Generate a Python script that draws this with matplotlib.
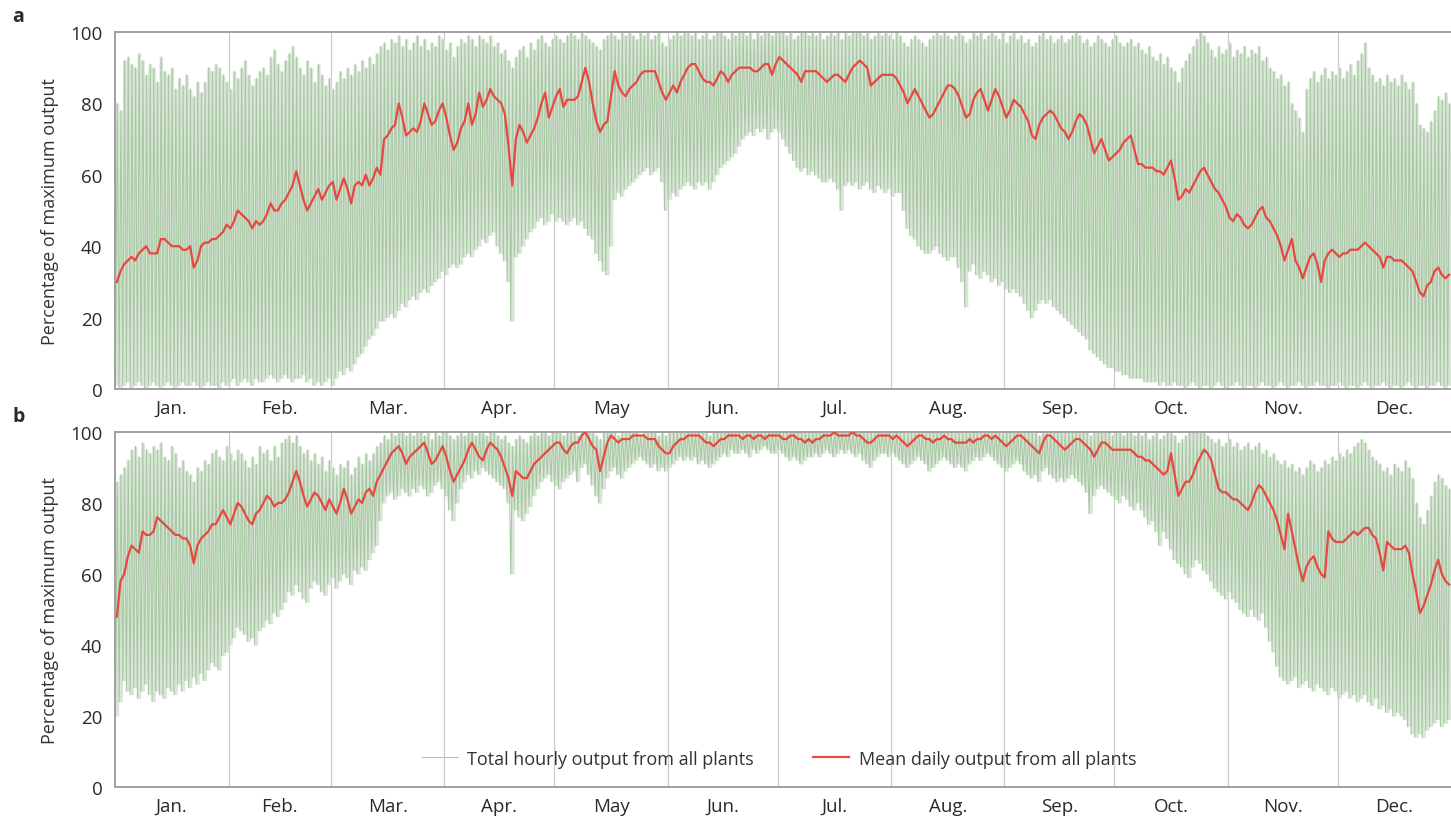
import numpy as np
import matplotlib
matplotlib.use("Agg")
import matplotlib.pyplot as plt

plt.rcParams['font.family'] = ['Open Sans', 'DejaVu Sans']

# ============== 数据 (按天读取, 0 = 1月1日) ==============
MONTHS = ['Jan.', 'Feb.', 'Mar.', 'Apr.', 'May', 'Jun.', 'Jul.', 'Aug.', 'Sep.', 'Oct.', 'Nov.', 'Dec.']
MONTH_DAYS = [31, 28, 31, 30, 31, 30, 31, 31, 30, 31, 30, 31]

# 面板 a: 日均值 / 日最大 / 日最小 (% of maximum output)
A_MEAN = [
    30, 33, 35, 36, 37, 36, 38, 39, 40, 38,
    38, 38, 42, 42, 41, 40, 40, 40, 39, 39,
    40, 34, 36, 40, 41, 41, 42, 42, 43, 44,
    46, 45, 47, 50, 49, 48, 47, 45, 47, 46,
    47, 49, 52, 50, 50, 52, 53, 55, 57, 61,
    57, 53, 50, 52, 54, 56, 53, 55, 57, 58,
    53, 56, 59, 56, 52, 57, 58, 57, 60, 57,
    59, 62, 60, 70, 71, 73, 74, 80, 76, 71,
    72, 73, 72, 75, 80, 77, 74, 75, 78, 80,
    76, 71, 67, 69, 73, 75, 80, 74, 77, 83,
    79, 81, 84, 82, 81, 80, 77, 68, 57, 70,
    74, 72, 69, 71, 73, 76, 80, 83, 76, 79,
    82, 84, 79, 81, 81, 81, 82, 86, 90, 86,
    80, 75, 72, 74, 75, 82, 89, 85, 83, 82,
    84, 85, 86, 88, 89, 89, 89, 89, 86, 83,
    81, 83, 85, 83, 86, 88, 90, 91, 91, 89,
    87, 86, 86, 85, 87, 89, 88, 86, 88, 89,
    90, 90, 90, 90, 89, 89, 90, 91, 91, 88,
    91, 93, 92, 91, 90, 89, 88, 86, 89, 89,
    89, 89, 88, 87, 86, 87, 88, 88, 87, 86,
    88, 90, 91, 92, 91, 90, 85, 86, 87, 88,
    88, 88, 88, 87, 85, 83, 80, 82, 84, 82,
    80, 78, 76, 77, 79, 81, 83, 85, 85, 84,
    82, 79, 76, 77, 81, 83, 84, 81, 78, 81,
    84, 82, 79, 76, 78, 81, 80, 79, 77, 75,
    71, 70, 74, 76, 77, 78, 77, 75, 73, 72,
    70, 72, 75, 77, 76, 74, 70, 66, 68, 70,
    67, 64, 65, 66, 67, 69, 70, 71, 67, 63,
    63, 62, 62, 62, 61, 61, 60, 62, 64, 59,
    53, 54, 56, 55, 57, 59, 61, 62, 60, 58,
    56, 55, 53, 51, 48, 47, 49, 48, 46, 45,
    46, 48, 50, 51, 48, 47, 45, 43, 40, 36,
    39, 42, 36, 34, 31, 34, 37, 38, 35, 30,
    36, 38, 39, 38, 37, 38, 38, 39, 39, 39,
    40, 41, 40, 39, 38, 37, 34, 37, 37, 36,
    36, 36, 35, 34, 33, 30, 27, 26, 29, 30,
    33, 34, 32, 31, 32,
]
A_MAX = [
    80, 78, 92, 93, 91, 90, 94, 92, 88, 91,
    90, 86, 93, 89, 88, 90, 84, 87, 85, 88,
    84, 82, 86, 83, 86, 90, 89, 91, 90, 88,
    86, 84, 89, 87, 90, 92, 88, 85, 87, 89,
    90, 88, 93, 95, 91, 89, 92, 94, 96, 93,
    90, 88, 92, 90, 86, 91, 88, 85, 87, 84,
    86, 89, 87, 90, 88, 91, 89, 92, 90, 93,
    91, 94, 96, 97, 95, 98, 97, 99, 96, 98,
    95, 97, 99, 96, 98, 95, 97, 96, 99, 98,
    95, 97, 93, 96, 98, 97, 99, 98, 96, 99,
    98, 97, 99, 96, 97, 94, 95, 92, 90, 93,
    95, 96, 93, 97, 95, 98, 99, 97, 96, 98,
    99, 98, 97, 99, 100, 99, 98, 100, 99, 98,
    97, 96, 95, 98, 99, 100, 99, 98, 100, 99,
    100, 99, 98, 100, 99, 100, 98, 99, 100, 97,
    96, 98, 99, 100, 99, 100, 100, 99, 100, 98,
    99, 100, 98, 99, 100, 100, 99, 98, 100, 99,
    100, 100, 99, 100, 98, 100, 99, 100, 100, 99,
    100, 100, 100, 99, 100, 98, 99, 100, 100, 99,
    100, 99, 100, 98, 99, 100, 99, 100, 98, 100,
    99, 100, 100, 100, 99, 100, 98, 99, 100, 99,
    100, 99, 98, 100, 99, 97, 96, 98, 99, 98,
    97, 96, 98, 99, 100, 99, 100, 99, 98, 99,
    100, 99, 97, 98, 100, 99, 100, 98, 99, 100,
    99, 98, 100, 97, 99, 100, 98, 99, 97, 98,
    96, 97, 99, 100, 98, 99, 97, 98, 99, 97,
    98, 99, 100, 99, 97, 98, 96, 97, 99, 98,
    97, 96, 98, 99, 97, 96, 97, 98, 96, 97,
    95, 94, 96, 93, 92, 94, 91, 93, 90, 89,
    86, 90, 92, 94, 96, 98, 100, 99, 97, 95,
    93, 96, 94, 95, 97, 93, 95, 94, 96, 93,
    95, 94, 96, 92, 93, 90, 89, 87, 88, 85,
    86, 80, 78, 76, 72, 84, 87, 89, 86, 88,
    90, 87, 89, 88, 90, 87, 89, 91, 88, 92,
    94, 97, 90, 88, 86, 87, 85, 88, 86, 87,
    85, 88, 86, 84, 86, 80, 74, 73, 72, 75,
    78, 82, 81, 83, 80,
]
A_MIN = [
    1, 0, 1, 2, 0, 1, 2, 1, 0, 1,
    2, 1, 0, 1, 2, 1, 0, 1, 2, 1,
    1, 2, 1, 0, 1, 2, 1, 1, 0, 2,
    1, 2, 3, 1, 2, 3, 2, 1, 3, 2,
    2, 3, 4, 3, 2, 3, 4, 3, 2, 3,
    3, 4, 2, 3, 1, 2, 1, 2, 3, 1,
    3, 5, 4, 6, 5, 7, 9, 10, 12, 14,
    15, 17, 19, 19, 20, 21, 20, 22, 24, 23,
    25, 26, 25, 27, 28, 27, 29, 30, 31, 33,
    32, 34, 35, 34, 35, 37, 38, 37, 39, 40,
    42, 41, 43, 44, 40, 38, 36, 30, 19, 37,
    38, 40, 42, 44, 45, 47, 48, 46, 47, 49,
    47, 48, 47, 46, 47, 48, 46, 47, 45, 43,
    42, 38, 36, 33, 32, 40, 53, 55, 54, 56,
    57, 58, 59, 60, 61, 62, 60, 61, 62, 58,
    50, 53, 55, 54, 56, 57, 58, 57, 56, 58,
    57, 58, 56, 58, 60, 62, 63, 64, 65, 66,
    68, 70, 71, 72, 71, 73, 72, 73, 70, 72,
    73, 72, 70, 68, 66, 64, 62, 61, 62, 60,
    61, 60, 59, 58, 58, 59, 58, 56, 50, 57,
    58, 57, 58, 56, 57, 58, 56, 55, 57, 56,
    55, 56, 54, 55, 55, 50, 45, 43, 42, 40,
    39, 38, 38, 39, 40, 38, 37, 36, 37, 37,
    34, 30, 23, 33, 35, 32, 31, 33, 32, 30,
    31, 29, 30, 28, 27, 28, 27, 26, 24, 22,
    20, 22, 24, 25, 24, 25, 23, 22, 21, 20,
    19, 18, 17, 16, 15, 14, 11, 10, 9, 8,
    7, 6, 6, 5, 5, 4, 4, 3, 3, 3,
    3, 2, 2, 2, 2, 1, 2, 1, 1, 2,
    1, 1, 0, 1, 2, 1, 0, 1, 1, 0,
    1, 2, 1, 0, 1, 1, 2, 1, 0, 1,
    1, 0, 1, 2, 1, 1, 0, 1, 2, 1,
    0, 1, 1, 2, 1, 0, 1, 1, 2, 1,
    1, 0, 1, 1, 2, 1, 0, 1, 1, 0,
    1, 2, 1, 0, 1, 1, 2, 1, 0, 1,
    1, 0, 1, 2, 1, 0, 1, 1, 0, 1,
    1, 2, 1, 0, 1,
]

# 面板 b
B_MEAN = [
    48, 58, 60, 65, 68, 67, 66, 72, 71, 71,
    72, 76, 75, 74, 73, 72, 71, 71, 70, 70,
    68, 63, 68, 70, 71, 72, 74, 74, 76, 78,
    76, 74, 77, 80, 79, 77, 75, 74, 77, 78,
    80, 82, 81, 79, 80, 80, 81, 83, 86, 89,
    86, 82, 79, 81, 83, 82, 80, 78, 81, 79,
    77, 80, 84, 81, 77, 79, 81, 80, 83, 84,
    82, 86, 88, 90, 92, 94, 95, 96, 94, 91,
    93, 94, 95, 96, 97, 94, 91, 92, 94, 96,
    93, 89, 86, 88, 90, 92, 95, 97, 95, 93,
    92, 95, 97, 96, 95, 93, 90, 87, 82, 89,
    88, 87, 87, 89, 91, 92, 93, 94, 95, 96,
    97, 97, 95, 94, 96, 97, 97, 99, 100, 98,
    96, 95, 89, 93, 97, 99, 98, 97, 98, 98,
    98, 99, 99, 99, 99, 98, 98, 98, 96, 95,
    94, 94, 96, 97, 98, 98, 99, 99, 99, 99,
    98, 97, 97, 96, 97, 98, 98, 99, 99, 99,
    99, 98, 99, 99, 98, 99, 99, 98, 99, 99,
    99, 99, 98, 98, 99, 99, 98, 98, 97, 98,
    97, 98, 98, 99, 99, 99, 100, 99, 99, 99,
    99, 100, 99, 99, 98, 97, 97, 98, 99, 99,
    99, 99, 98, 99, 98, 97, 96, 97, 98, 99,
    99, 98, 98, 97, 98, 98, 99, 98, 98, 97,
    97, 97, 97, 98, 97, 98, 98, 99, 99, 98,
    99, 98, 97, 96, 97, 98, 99, 99, 98, 97,
    96, 95, 94, 97, 99, 99, 98, 97, 96, 95,
    96, 97, 98, 98, 97, 96, 95, 93, 95, 97,
    97, 96, 95, 95, 95, 95, 95, 95, 94, 93,
    93, 92, 92, 91, 90, 89, 88, 89, 94, 88,
    82, 84, 86, 86, 88, 91, 93, 95, 94, 92,
    88, 84, 83, 83, 82, 81, 81, 80, 79, 78,
    80, 83, 85, 84, 82, 80, 78, 75, 71, 67,
    77, 72, 67, 62, 58, 62, 64, 65, 62, 60,
    59, 72, 70, 69, 69, 69, 70, 71, 72, 71,
    72, 73, 73, 71, 70, 66, 61, 69, 68, 67,
    67, 67, 68, 66, 60, 55, 49, 51, 54, 57,
    61, 64, 60, 58, 57,
]
B_MAX = [
    86, 88, 90, 92, 95, 96, 93, 97, 95, 94,
    96, 95, 97, 93, 92, 96, 94, 90, 92, 89,
    88, 86, 90, 89, 92, 91, 94, 95, 93, 92,
    96, 94, 92, 95, 94, 92, 90, 93, 91, 96,
    94, 95, 92, 96, 93, 97, 98, 99, 97, 99,
    96, 94, 95, 92, 94, 91, 93, 89, 92, 90,
    88, 91, 90, 92, 88, 90, 93, 91, 94, 92,
    94, 96, 97, 99, 98, 100, 99, 100, 100, 99,
    100, 99, 100, 100, 99, 100, 98, 100, 99, 100,
    100, 99, 98, 99, 100, 99, 100, 100, 99, 100,
    100, 99, 100, 100, 99, 98, 99, 97, 96, 98,
    99, 98, 97, 99, 100, 99, 100, 100, 99, 100,
    100, 100, 99, 100, 100, 100, 99, 100, 100, 100,
    100, 99, 98, 100, 100, 100, 100, 99, 100, 100,
    100, 100, 100, 99, 100, 100, 100, 100, 99, 100,
    99, 100, 100, 100, 100, 100, 100, 100, 100, 100,
    100, 100, 99, 100, 100, 100, 100, 100, 100, 100,
    100, 100, 100, 100, 100, 100, 100, 100, 100, 100,
    100, 100, 100, 100, 100, 100, 100, 100, 100, 100,
    100, 100, 100, 100, 100, 100, 100, 100, 100, 100,
    100, 100, 100, 100, 100, 100, 100, 100, 100, 100,
    100, 100, 100, 100, 100, 100, 100, 100, 100, 100,
    100, 100, 100, 100, 100, 100, 100, 100, 100, 100,
    100, 100, 100, 100, 100, 100, 100, 100, 100, 100,
    100, 100, 100, 100, 100, 100, 100, 100, 100, 100,
    100, 100, 99, 100, 100, 100, 100, 100, 100, 100,
    100, 100, 100, 100, 100, 100, 99, 100, 100, 100,
    100, 100, 99, 100, 100, 99, 100, 100, 99, 100,
    99, 100, 98, 99, 100, 98, 99, 100, 100, 99,
    97, 98, 99, 100, 100, 100, 100, 100, 99, 98,
    97, 98, 96, 97, 98, 96, 97, 95, 96, 97,
    95, 96, 97, 94, 95, 93, 94, 92, 91, 92,
    90, 91, 89, 90, 88, 90, 92, 91, 89, 90,
    92, 91, 93, 92, 94, 93, 95, 94, 96, 97,
    98, 97, 95, 93, 92, 91, 89, 90, 88, 91,
    90, 89, 92, 90, 87, 80, 76, 74, 78, 82,
    86, 88, 87, 85, 84,
]
B_MIN = [
    20, 24, 30, 27, 26, 28, 25, 27, 29, 26,
    24, 27, 26, 25, 28, 27, 26, 29, 27, 30,
    28, 31, 29, 32, 30, 33, 35, 34, 33, 37,
    38, 40, 42, 45, 44, 43, 41, 42, 40, 44,
    45, 47, 46, 49, 48, 50, 52, 55, 54, 57,
    55, 53, 52, 56, 58, 57, 55, 54, 57, 59,
    56, 58, 60, 59, 57, 61, 60, 62, 61, 64,
    66, 68, 75, 80, 82, 83, 81, 82, 84, 83,
    82, 84, 83, 85, 84, 82, 83, 85, 86, 84,
    82, 78, 75, 80, 84, 86, 88, 87, 89, 88,
    90, 89, 88, 87, 86, 85, 84, 80, 60, 78,
    76, 75, 77, 79, 82, 84, 86, 87, 88, 86,
    85, 84, 86, 87, 88, 89, 86, 90, 91, 88,
    85, 82, 80, 84, 87, 89, 90, 88, 87, 89,
    90, 91, 92, 93, 92, 91, 90, 91, 89, 90,
    89, 90, 91, 92, 93, 92, 93, 92, 93, 91,
    92, 91, 90, 91, 92, 93, 94, 93, 95, 94,
    94, 95, 94, 93, 95, 94, 95, 96, 95, 94,
    94, 95, 94, 93, 92, 93, 92, 91, 92, 93,
    93, 94, 93, 94, 95, 94, 93, 94, 95, 94,
    95, 94, 93, 94, 92, 91, 90, 92, 93, 94,
    94, 93, 94, 93, 92, 91, 90, 91, 92, 93,
    92, 91, 89, 90, 91, 92, 93, 92, 91, 90,
    91, 90, 89, 91, 92, 93, 92, 93, 94, 93,
    92, 91, 90, 89, 90, 91, 92, 91, 89, 88,
    87, 88, 86, 89, 90, 88, 87, 86, 87, 86,
    87, 88, 87, 86, 85, 83, 77, 82, 84, 85,
    84, 83, 82, 81, 80, 82, 81, 79, 78, 80,
    78, 76, 74, 75, 72, 68, 72, 70, 67, 64,
    63, 62, 60, 59, 62, 64, 63, 61, 60, 58,
    56, 55, 54, 53, 55, 53, 52, 50, 49, 48,
    50, 48, 47, 49, 45, 41, 38, 34, 31, 30,
    29, 30, 31, 28, 29, 30, 28, 27, 29, 28,
    27, 26, 28, 27, 25, 26, 27, 25, 26, 24,
    25, 26, 24, 23, 25, 22, 23, 21, 22, 20,
    21, 20, 19, 17, 15, 14, 15, 14, 16, 17,
    18, 19, 17, 18, 19,
]

GREEN = '#a9c6a5'
GREEN_FILL = '#d8e7d5'
RED = '#e5493f'
GRID = '#cccccc'
SPINE = '#a0a0a0'
TEXT = '#2a2a2a'


def draw_panel(ax, d_mean, d_max, d_min, letter, legend=False):
    n = len(d_mean)
    days = np.arange(n)
    # 浅色底: 每天最小到最大的范围
    ax.fill_between(np.arange(n + 1), np.append(d_min, d_min[-1]), np.append(d_max, d_max[-1]),
                    step='post', color=GREEN_FILL, lw=0, zorder=1.5)
    # 小时曲线: 每天在最小值与最大值之间往返
    xh = (days[:, None] + np.array([0.1, 0.6])).ravel()
    yh = np.column_stack([d_min, d_max]).ravel()
    ax.plot(xh, yh, color=GREEN, lw=0.75, label='Total hourly output from all plants', zorder=2)
    ax.plot(days + 0.5, d_mean, color=RED, lw=1.6, label='Mean daily output from all plants', zorder=3)

    edges = np.cumsum(MONTH_DAYS)
    for e in edges[:-1]:
        ax.axvline(e, color=GRID, lw=0.9, zorder=1)
    mids = edges - np.array(MONTH_DAYS) / 2
    ax.set_xticks(mids)
    ax.set_xticklabels(MONTHS)
    ax.set_xlim(0, n)
    ax.set_ylim(0, 100)
    ax.set_yticks([0, 20, 40, 60, 80, 100])
    ax.tick_params(length=0, labelsize=13.5, colors=TEXT)
    ax.tick_params(axis='x', pad=7)
    ax.tick_params(axis='y', pad=9)
    for s in ['left', 'bottom', 'top']:
        ax.spines[s].set_color(SPINE)
        ax.spines[s].set_linewidth(1.4)
    ax.spines['right'].set_visible(False)
    ax.set_ylabel('Percentage of maximum output', fontsize=13, color='#333333', labelpad=8)
    ax.text(-0.077, 1.045, letter, transform=ax.transAxes, fontsize=14,
            fontweight='bold', va='center', ha='left', color=TEXT)
    if legend:
        leg = ax.legend(loc='center', bbox_to_anchor=(0.497, 0.08), ncol=2, frameon=False,
                        fontsize=13, handlelength=2.0, columnspacing=3.3, handletextpad=0.5)
        for t in leg.get_texts():
            t.set_color('#333333')


fig = plt.figure(figsize=(14.51, 8.2), dpi=100)
ax_a = fig.add_axes([0.0793, 0.5244, 0.9207, 0.4354])
ax_b = fig.add_axes([0.0793, 0.039, 0.9207, 0.433])

draw_panel(ax_a, A_MEAN, A_MAX, A_MIN, 'a')
draw_panel(ax_b, B_MEAN, B_MAX, B_MIN, 'b', legend=True)

fig.savefig('out.png', dpi=100)
